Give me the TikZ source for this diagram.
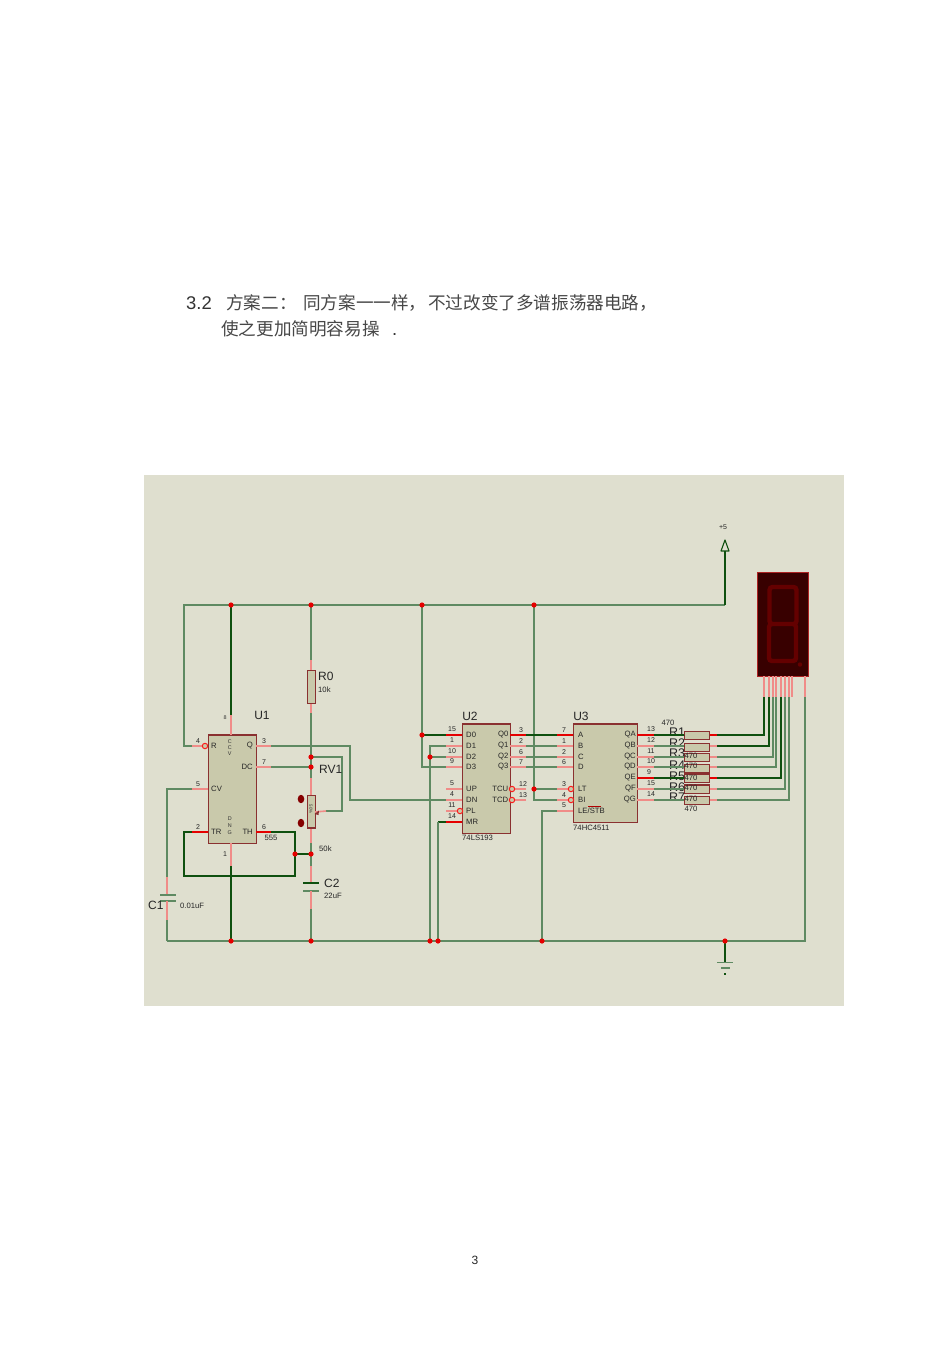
\documentclass[tikz,border=0pt]{standalone}
\usepackage{fontspec}
\setmainfont{Liberation Sans}
\newfontfamily\cjk{Noto Sans CJK SC}
\usetikzlibrary{positioning, calc}
\definecolor{panelbg}{HTML}{DFDFCF}
\definecolor{chipbg}{HTML}{C9C9AB}
\definecolor{chipline}{HTML}{8A3030}
\definecolor{wirecol}{HTML}{5F8A62}
\definecolor{darkwirecol}{HTML}{0F500F}
\definecolor{pincol}{HTML}{F08C88}
\definecolor{dispbg}{HTML}{380000}
\definecolor{dispseg}{HTML}{640000}
\tikzset{
  wire/.style={wirecol, line width=1.2pt},
  darkwire/.style={darkwirecol, line width=1.1pt},
  pinline/.style={pincol, line width=1.6pt},
  hotpin/.style={red!90!black, line width=1.7pt},
  chip/.style={draw=chipline, fill=chipbg, line width=1.4pt, anchor=north west, inner sep=0pt},
  junction/.style={circle, fill=red!90!black, draw=none, inner sep=0pt, minimum size=5.2pt},
  bubble/.style={circle, draw=red!80!pincol, fill=chipbg, line width=1pt, inner sep=0pt, minimum size=5.4pt},
  chiptext/.style={font=\fontsize{7.7}{8}\selectfont, inner sep=0pt, text=black!85},
  pinnum/.style={font=\fontsize{7}{8}\selectfont, inner sep=0pt, text=black!85},
  reflabel/.style={font=\fontsize{12}{13}\selectfont, inner sep=0pt, text=black!85},
  vallabel/.style={font=\fontsize{7.7}{8}\selectfont, inner sep=0pt, text=black!85},
  tinylabel/.style={font=\fontsize{5.4}{6}\selectfont, inner sep=0pt, text=black!80},
  bodytext/.style={font=\fontsize{18.4}{20}\selectfont, inner sep=0pt, anchor=base west, text=black!80},
  cjktext/.style={font=\fontsize{17.6}{20}\selectfont\cjk, inner sep=0pt, anchor=base west, text=black!72},
}
\begin{document}
\begin{tikzpicture}[x=1pt, y=-1pt, >=stealth]
  \useasboundingbox (0,0) rectangle (950,1345);
  \fill[white] (0,0) rectangle (950,1345);

  % heading text
  \node[bodytext] (numhead) at (186,309) {3.2};
  \node[cjktext] (headA) at (226,309) {方案二：};
  \node[cjktext] (headB) at (303,309) {同方案一一样，};
  \node[cjktext] (headC) at (428,309) {不过改变了多谱振荡器电路，};
  \node[cjktext] (headD) at (221,335) {使之更加简明容易操};
  \node[bodytext] (headE) at (392,335) {.};
  \node[font=\fontsize{12}{13}\selectfont, inner sep=0pt, text=black!85] (pagenum) at (475,1260) {3};

  \fill[panelbg] (144,475) rectangle (844,1006);

  % net points
  \foreach \pname/\px/\py in {railL/184/605, j8/231/605, jR0/311/605, jU2/422/605, jU3/534/605, railR/725/605,
      vcc/725/551, jLoop/311/757, jDC/311/767, jTap/295/854, jTapR/311/854, loopBL/184/876, loopBR/295/876,
      gndA/231/941, gndB/311/941, gndC/430/941, gndD/438/941, gndE/542/941, gndF/725/941, gndL/167/941,
      gndR/805/941, earth/725/962, j422/422/735, j430/430/757, jLT/534/789, busD1/430/746, busMR/438/822,
      loopTR/342/757, loopBot/342/811, wiper/326/811, clkA/350/746, clkB/350/800}
    \coordinate (\pname) at (\px,\py);

  % chips
  \node[chip, minimum width=48pt, minimum height=108pt] (U1) at (208,735) {};
  \node[chip, minimum width=48pt, minimum height=109pt] (U2) at (462,724) {};
  \node[chip, minimum width=64pt, minimum height=98pt] (U3) at (573,724) {};
  \draw[chipline, line width=2pt] (U1.north west) -- (U1.north east);
  \draw[chipline, line width=1.8pt] (U3.north west) -- (U3.north east);
  \draw[chipline, line width=1.6pt] (U2.north west) -- (U2.north east);

  % U1 pins
  \foreach \pname/\py/\pnum/\ptxt/\col in {R/746/4/R/pinline, CV/789/5/CV/pinline, TR/832/2/TR/hotpin}{
    \coordinate (U1\pname) at (192,\py);
    \draw[style=\col] (U1\pname) -- (208,\py);
    \node[pinnum] (U1num\pname) at (198,\py-5) {\pnum};
    \node[chiptext, anchor=west] (U1txt\pname) at (211,\py) {\ptxt};
  }
  \node[bubble] (U1bub) at (205,746) {};
  \foreach \pname/\py/\pnum/\ptxt/\col in {Q/746/3/Q/pinline, DC/767/7/DC/pinline, TH/832/6/TH/hotpin}{
    \coordinate (U1\pname) at (271,\py);
    \draw[style=\col] (U1\pname) -- (256,\py);
    \node[pinnum] (U1num\pname) at (264,\py-5) {\pnum};
    \node[chiptext, anchor=east] (U1txt\pname) at (253,\py) {\ptxt};
  }
  \coordinate (U1VCC) at (231,715);
  \coordinate (U1GND) at (231,866);
  \draw[pinline] (U1VCC) -- (231,735);
  \draw[pinline] (U1GND) -- (231,843);
  \node[tinylabel] (U1num8) at (225,718) {8};
  \node[pinnum] (U1num1) at (225,854) {1};
  \foreach \ptxt/\py in {C/742, C/748, V/754, D/819, N/826, G/833}
    \node[tinylabel] (U1side\py) at (229.7,\py) {\ptxt};
  \node[reflabel] (U1ref) at (262,715) {U1};
  \node[vallabel] (U1val) at (271,838) {555};

  % U2 pins
  \foreach \pname/\py/\pnum/\col in {D0/735/15/hotpin, D1/746/1/pinline, D2/757/10/pinline, D3/767/9/pinline,
      UP/789/5/pinline, DN/800/4/pinline, PL/811/11/pinline, MR/822/14/hotpin}{
    \coordinate (U2\pname) at (446,\py);
    \draw[style=\col] (U2\pname) -- (462,\py);
    \node[pinnum] (U2num\pname) at (452,\py-5.5) {\pnum};
    \node[chiptext, anchor=west] (U2txt\pname) at (466,\py) {\pname};
  }
  \node[bubble] (U2bub) at (460,811) {};
  \foreach \pname/\py/\pnum/\px/\col in {Q0/735/3/521/hotpin, Q1/746/2/521/pinline, Q2/757/6/521/pinline, Q3/767/7/521/pinline,
      TCU/789/12/523/pinline, TCD/800/13/523/pinline}{
    \coordinate (U2\pname) at (526,\py);
    \draw[style=\col] (U2\pname) -- (510,\py);
    \node[pinnum] (U2num\pname) at (\px,\py-5) {\pnum};
    \node[chiptext, anchor=east] (U2txt\pname) at (508.5,\py) {\pname};
  }
  \node[bubble] (U2bubA) at (512,789) {};
  \node[bubble] (U2bubB) at (512,800) {};
  \node[reflabel] (U2ref) at (470,716) {U2};
  \node[vallabel, anchor=west] (U2val) at (462,838) {74LS193};

  % U3 pins
  \foreach \pname/\py/\pnum/\col in {A/735/7/hotpin, B/746/1/pinline, C/757/2/pinline, D/767/6/pinline,
      LT/789/3/pinline, BI/800/4/pinline}{
    \coordinate (U3\pname) at (557,\py);
    \draw[style=\col] (U3\pname) -- (573,\py);
    \node[pinnum] (U3num\pname) at (564,\py-5) {\pnum};
    \node[chiptext, anchor=west] (U3txt\pname) at (578,\py) {\pname};
  }
  \coordinate (U3LE) at (557,811);
  \draw[pinline] (U3LE) -- (573,811);
  \node[pinnum] (U3numLE) at (564,805.5) {5};
  \node[chiptext, anchor=west] (U3txtLE) at (578,811) {LE/STB};
  \draw[red!70!black, line width=0.6pt] (588,806) -- (601,806);
  \node[bubble] (U3bubA) at (571,789) {};
  \node[bubble] (U3bubB) at (571,800) {};
  \foreach \pname/\py/\pnum/\px/\col in {QA/735/13/651/hotpin, QB/746/12/651/pinline, QC/757/11/651/pinline, QD/767/10/651/pinline,
      QE/778/9/649/hotpin, QF/789/15/651/pinline, QG/800/14/651/pinline}{
    \coordinate (U3\pname) at (654,\py);
    \draw[style=\col] (U3\pname) -- (637,\py);
    \node[pinnum] (U3num\pname) at (\px,\py-6) {\pnum};
    \node[chiptext, anchor=east] (U3txt\pname) at (636,\py) {\pname};
  }
  \node[reflabel] (U3ref) at (581,716) {U3};
  \node[vallabel, anchor=west] (U3val) at (573,828) {74HC4511};

  % R1..R7
  \foreach \rname/\py/\ptop/\rtop/\out/\col in {1/735/731/732/764/hotpin, 2/746/743/743/769/pinline, 3/757/753/753/773/pinline,
      4/767/764/765/776/pinline, 5/778/774/776/781/hotpin, 6/789/785/787/785/pinline, 7/800/796/797/789/pinline}{
    \node[chip, line width=1.2pt, minimum width=25pt, minimum height=7.6pt] (R\rname) at (684,\ptop) {};
    \coordinate (R\rname in) at (684,\py);
    \coordinate (R\rname pin) at (717,\py);
    \coordinate (R\rname seg) at (\out,697);
    \draw[style=\col] (R\rname.east |- R\rname in) -- (R\rname pin);
    \node[font=\fontsize{12.5}{13}\selectfont, inner sep=0pt, anchor=west, text=black!85] (R\rname txt) at (669,\rtop) {R\rname};
  }
  \draw[chipline, line width=2pt] (R5.north west) -- (R5.north east);
  \draw[chipline, line width=2pt] (R6.north west) -- (R6.north east);
  \foreach \py in {756, 766, 778, 788, 799, 809}
    \node[vallabel] (val\py) at (691,\py) {470};
  \node[vallabel] (valtop) at (668,723) {470};

  % display
  \node[chip, draw=chipline!70!red, fill=dispbg, minimum width=51pt, minimum height=104pt] (disp) at (757,572) {};
  \foreach \sx in {764,769,773,776,781,785,789,792,805}
    \draw[pinline] (\sx,676) -- (\sx,697);
  \coordinate (dispCom) at (805,697);
  \draw[dispseg, line width=4.4pt, rounded corners=3pt] (769.5,587) rectangle (796.5,624) (769,624) rectangle (796,661);
  \fill[dispseg] (800,664.5) circle (2.2);
  \node[font=\fontsize{7}{8}\selectfont, inner sep=0pt, text=black!85] (vccval) at (723,527) {+5};

  % wires top and left
  \draw[wire] (U1R) -| (railL) -- (railR);
  \draw[darkwire] (railR) -- (vcc);
  \draw[darkwire, line join=round] (vcc) ++(-4,0) -- ++(4,-11) -- ++(4,11) -- cycle;
  \draw[darkwire] (j8) -- (U1VCC);
  \draw[wire] (U1CV) -| (167,877);
  \draw[darkwire] (U1GND) -- (gndA);
  \draw[darkwire, line width=1.7pt] (U1TR) -| (loopBL) -- (loopBR) |- (U1TH);
  \draw[darkwire] (jTap) -- (jTapR);

  % timing branch
  \coordinate (R0top) at (311,660);
  \coordinate (R0bot) at (311,713);
  \draw[wire] (jR0) -- (R0top);
  \draw[pinline] (R0top) -- (R0bot);
  \node[chip, minimum width=7.5pt, minimum height=33pt, line width=1.2pt] (R0) at (307.2,670) {};
  \draw[wire] (R0bot) -- (311,778);
  \draw[pinline] (311,778) -- (311,795);
  \draw[pinline] (311,827) -- (311,843);
  \node[chip, minimum width=7.5pt, minimum height=32pt, line width=1.2pt] (RV1) at (307.2,795) {};
  \draw[chipline, line width=2pt] (RV1.south west) -- (RV1.south east);
  \draw[wire] (311,843) -- (jTapR);
  \draw[wire] (jLoop) -| (loopBot) -- (wiper);
  \draw[pinline] (wiper) -- (315,812);
  \fill[chipline] (314.5,814) -- (319,810.5) -- (318.5,815) -- cycle;
  \foreach \py in {799,823}
    \fill[red!52!black] (301,\py) ellipse (3.3 and 4.2);
  \node[tinylabel, rotate=-90, font=\fontsize{4.4}{5}\selectfont] (RV1pct) at (311,809) {50\%};
  \draw[wire] (U1Q) -- (clkA) -- (clkB) -- (U2DN);
  \draw[wire] (U1DC) -- (jDC);
  \node[reflabel, anchor=west] (R0ref) at (318,676) {R0};
  \node[vallabel, anchor=west] (R0val) at (318,690) {10k};
  \node[reflabel, anchor=west] (RV1ref) at (319,769) {RV1};
  \node[vallabel, anchor=west] (RV1val) at (319,849) {50k};

  % capacitors
  \draw[wire] (jTapR) -- (311,866);
  \draw[pinline] (311,866) -- (311,883);
  \draw[darkwire, line width=1.6pt] (303,883) -- (319,883);
  \draw[wire, line width=1.6pt] (303,891) -- (319,891);
  \draw[pinline] (311,891) -- (311,909);
  \draw[wire] (311,909) -- (gndB);
  \node[reflabel, anchor=west] (C2ref) at (324,883) {C2};
  \node[vallabel, anchor=west] (C2val) at (324,896) {22uF};
  \draw[pinline] (167,877) -- (167,895);
  \draw[wire] (160,895) -- (176,895);
  \draw[wire, line width=1.4pt] (160,901) -- (176,901);
  \draw[pinline] (167,901) -- (167,920);
  \draw[wire] (167,920) -- (gndL);
  \node[reflabel, anchor=west] (C1ref) at (148,905) {C1};
  \node[vallabel, anchor=west] (C1val) at (180,906) {0.01uF};

  % ground rail
  \draw[wire] (gndL) -- (gndR) -- (dispCom);
  \draw[darkwire] (gndF) -- (earth);
  \draw[wire] (717,962.5) -- (733,962.5);
  \draw[wire, line width=1.5pt] (721,968) -- (730,968);
  \fill[darkwirecol] (724,972.6) rectangle (726,974.6);

  % U2 and U3 nets
  \draw[wire] (jU2) -- (j422) -- (422,767) -- (U2D3);
  \draw[darkwire, line width=1.5pt] (j422) -- (U2D0);
  \draw[wire] (U2D1) -- (busD1) -- (gndC);
  \draw[wire] (j430) -- (U2D2);
  \draw[darkwire, line width=1.5pt] (U2MR) -- (busMR);
  \draw[wire] (busMR) -- (gndD);
  \draw[wire] (jU3) -- (jLT) -- (534,800) -- (U3BI);
  \draw[wire] (jLT) -- (U3LT);
  \draw[wire] (U3LE) -| (gndE);
  \draw[darkwire, line width=1.5pt] (U2Q0) -- (U3A);
  \draw[wire] (U2Q1) -- (U3B);
  \draw[wire] (U2Q2) -- (U3C);
  \draw[wire] (U2Q3) -- (U3D);

  % U3 to resistors and display
  \draw[darkwire, line width=1.5pt] (U3QA) -- (R1in);
  \draw[wire] (U3QB) -- (R2in);
  \draw[wire] (U3QC) -- (R3in);
  \draw[wire] (U3QD) -- (R4in);
  \draw[darkwire, line width=1.5pt] (U3QE) -- (R5in);
  \draw[wire] (U3QF) -- (R6in);
  \draw[wire] (U3QG) -- (R7in);
  \draw[darkwire, line width=1.5pt] (R1pin) -| (R1seg);
  \draw[darkwire] (R2pin) -| (R2seg);
  \foreach \rname in {3,4,6,7}
    \draw[wire] (R\rname pin) -| (R\rname seg);
  \draw[darkwire, line width=1.5pt] (R5pin) -| (R5seg);

  % junctions
  \foreach \pname in {j8,jR0,jU2,jU3,jLoop,jDC,jTap,jTapR,gndA,gndB,gndC,gndD,gndE,gndF,j422,j430,jLT}
    \node[junction] (dot\pname) at (\pname) {};
\end{tikzpicture}
\end{document}
